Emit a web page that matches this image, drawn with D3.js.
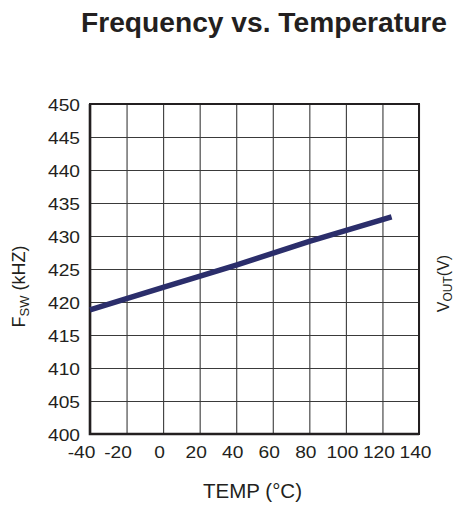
<!DOCTYPE html>
<html>
<head>
<meta charset="utf-8">
<script src="https://cdn.jsdelivr.net/npm/d3@7"></script>
<style>
  html, body { margin: 0; padding: 0; background: #ffffff; }
  svg { display: block; }
  text { font-family: "Liberation Sans", Arial, Helvetica, sans-serif; fill: #231f20; }
</style>
</head>
<body>
<div id="chart"></div>
<script>
// ---- data ----
const temps = [-40, 0, 40, 80, 125];
const fsw = [418.8, 422.2, 425.6, 429.2, 432.9];
const xTicks = [-40, -20, 0, 20, 40, 60, 80, 100, 120, 140];
const yTicks = [400, 405, 410, 415, 420, 425, 430, 435, 440, 445, 450];
const title = "Frequency vs. Temperature";
const xTitle = "TEMP (°C)";

// ---- layout ----
const W = 454, H = 508;
const L = 90, R = 419, T = 104, B = 434;
const stretch = 1.13;

const svg = d3.select("#chart").append("svg").attr("width", W).attr("height", H);
svg.append("rect").attr("width", W).attr("height", H).attr("fill", "#fff");

const x = d3.scaleLinear().domain([-40, 140]).range([L, R]);
const y = d3.scaleLinear().domain([400, 450]).range([B, T]);

// title
svg.append("text")
  .attr("x", 264).attr("y", 32)
  .attr("text-anchor", "middle")
  .attr("font-size", 28).attr("font-weight", "bold")
  .attr("textLength", 366).attr("lengthAdjust", "spacingAndGlyphs")
  .text(title);

// x axis with grid
const gx = svg.append("g").attr("transform", `translate(0,${B})`)
  .call(d3.axisBottom(x).tickValues(xTicks).tickSize(-(B - T)).tickFormat(d => String(d)));
gx.select(".domain").remove();
gx.selectAll(".tick line").attr("stroke", "#3a3a3a").attr("stroke-width", 1.1);
gx.selectAll(".tick text")
  .attr("font-size", 17)
  .attr("fill", "#231f20")
  .attr("text-anchor", "middle")
  .attr("dy", 0)
  .attr("y", 24)
  .attr("x", d => (d < 0 ? -9 : -4) / stretch)
  .attr("transform", `scale(${stretch},1)`);

// y axis with grid
const gy = svg.append("g").attr("transform", `translate(${L},0)`)
  .call(d3.axisLeft(y).tickValues(yTicks).tickSize(-(R - L)).tickFormat(d => String(d)));
gy.select(".domain").remove();
gy.selectAll(".tick line").attr("stroke", "#3a3a3a").attr("stroke-width", 1.1);
gy.selectAll(".tick text")
  .attr("font-size", 17)
  .attr("fill", "#231f20")
  .attr("text-anchor", "end")
  .attr("dy", "0.36em")
  .attr("x", -10 / stretch)
  .attr("transform", `scale(${stretch},1)`);

// frame
svg.append("rect")
  .attr("x", x(-40)).attr("y", y(450))
  .attr("width", x(140) - x(-40)).attr("height", y(400) - y(450))
  .attr("fill", "none").attr("stroke", "#231f20").attr("stroke-width", 2);
// heavier left & bottom axis lines
svg.append("path")
  .attr("d", `M${x(-40)},${y(450)}V${y(400)}H${x(140)}`)
  .attr("fill", "none").attr("stroke", "#231f20").attr("stroke-width", 2.6);

// data line
const data = temps.map((t, i) => ({ t, f: fsw[i] }));
svg.append("path")
  .datum(data)
  .attr("fill", "none")
  .attr("stroke", "#2b2e6b")
  .attr("stroke-width", 5.5)
  .attr("d", d3.line().x(d => x(d.t)).y(d => y(d.f)));

// x title
svg.append("text")
  .attr("x", 252.5).attr("y", 498)
  .attr("text-anchor", "middle")
  .attr("font-size", 20)
  .attr("textLength", 99).attr("lengthAdjust", "spacingAndGlyphs")
  .text(xTitle);

// y title: F_SW (kHZ)
const yt = svg.append("text")
  .attr("transform", "translate(25,286.5) rotate(-90)")
  .attr("text-anchor", "middle")
  .attr("font-size", 18);
yt.append("tspan").text("F");
yt.append("tspan").attr("font-size", 13).attr("dy", 4).text("SW");
yt.append("tspan").attr("dy", -4).text(" (kHZ)");

// right-side title: V_OUT(V) (sits at the very edge as in the reference)
const vt = svg.append("text")
  .attr("transform", "translate(449,283.5) rotate(-90)")
  .attr("text-anchor", "middle")
  .attr("font-size", 16);
vt.append("tspan").text("V");
vt.append("tspan").attr("font-size", 12).attr("dy", 3).text("OUT");
vt.append("tspan").attr("dy", -3).text("(V)");
</script>
</body>
</html>
